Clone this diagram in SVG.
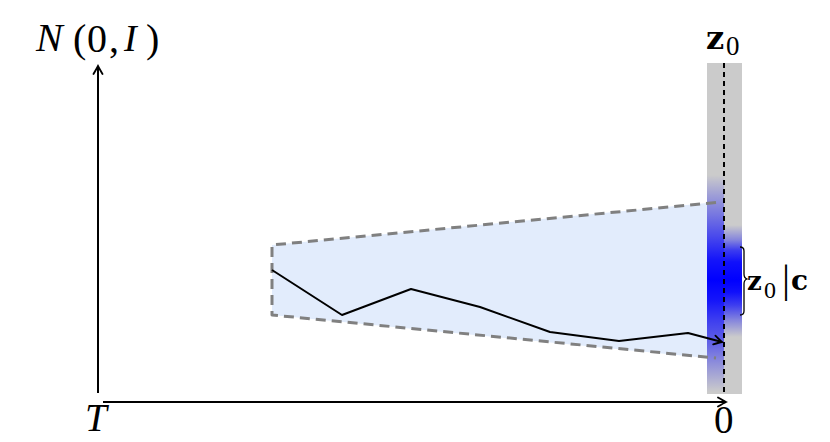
<svg xmlns="http://www.w3.org/2000/svg" width="830" height="442" viewBox="0 0 830 442">
<defs>
<style>
.lbl{font-family:"Liberation Serif","DejaVu Serif",serif;fill:#000}
.bf{font-family:"DejaVu Serif","Liberation Serif",serif;font-weight:bold}
.it{font-style:italic}
.axis{stroke:#000;stroke-width:2;fill:none}
.dash{stroke:#808080;stroke-width:3;stroke-dasharray:10 6;fill:none;stroke-linejoin:round}
</style>
<marker id="arr" viewBox="-10 -6 12 12" refX="0" refY="0" markerWidth="12" markerHeight="12" markerUnits="userSpaceOnUse" orient="auto">
<path d="M-8,-4.5 Q-2,-1 0,0 Q-2,1 -8,4.5" fill="none" stroke="#000" stroke-width="1.8" stroke-linecap="round"/>
</marker>
<linearGradient id="gL" gradientUnits="userSpaceOnUse" x1="0" y1="175" x2="0" y2="392">
<stop offset="0" stop-color="#0000ff" stop-opacity="0"/>
<stop offset="0.092" stop-color="#0000ff" stop-opacity="0.22"/>
<stop offset="0.184" stop-color="#0000ff" stop-opacity="0.42"/>
<stop offset="0.3" stop-color="#0000ff" stop-opacity="0.68"/>
<stop offset="0.392" stop-color="#0000ff" stop-opacity="0.9"/>
<stop offset="0.484" stop-color="#0000ff" stop-opacity="1"/>
<stop offset="0.576" stop-color="#0000ff" stop-opacity="0.9"/>
<stop offset="0.668" stop-color="#0000ff" stop-opacity="0.7"/>
<stop offset="0.783" stop-color="#0000ff" stop-opacity="0.5"/>
<stop offset="0.876" stop-color="#0000ff" stop-opacity="0.28"/>
<stop offset="1" stop-color="#0000ff" stop-opacity="0"/>
</linearGradient>
<linearGradient id="gR" gradientUnits="userSpaceOnUse" x1="0" y1="225" x2="0" y2="337">
<stop offset="0" stop-color="#0000ff" stop-opacity="0"/>
<stop offset="0.134" stop-color="#0000ff" stop-opacity="0.35"/>
<stop offset="0.223" stop-color="#0000ff" stop-opacity="0.7"/>
<stop offset="0.33" stop-color="#0000ff" stop-opacity="0.92"/>
<stop offset="0.491" stop-color="#0000ff" stop-opacity="1"/>
<stop offset="0.6" stop-color="#0000ff" stop-opacity="0.92"/>
<stop offset="0.714" stop-color="#0000ff" stop-opacity="0.7"/>
<stop offset="0.848" stop-color="#0000ff" stop-opacity="0.35"/>
<stop offset="1" stop-color="#0000ff" stop-opacity="0"/>
</linearGradient>
</defs>
<rect width="830" height="442" fill="#ffffff"/>
<g id="region">
<polygon points="272,245 707,203 707,358 272,315" fill="#e2ecfc"/>
</g>
<g id="band">
<rect x="707" y="63" width="35" height="331" fill="#cbcbcb"/>
<rect x="707" y="175" width="17" height="217" fill="url(#gL)"/>
<rect x="724" y="225" width="18" height="112" fill="url(#gR)"/>
</g>
<g id="connectors">
<path class="dash" d="M716,202.5 L272,245 L272,315 L716,358"/>
<line x1="724" y1="63" x2="724" y2="394" stroke="#000" stroke-width="2" stroke-dasharray="5 4"/>
<polyline points="272,270 342,315 411,289 480,307 550,332 619,341 688,333 722,342" fill="none" stroke="#000" stroke-width="2" stroke-linejoin="round" marker-end="url(#arr)"/>
<line class="axis" x1="98" y1="393" x2="98" y2="66" marker-end="url(#arr)"/>
<line class="axis" x1="103" y1="402" x2="726" y2="402" marker-end="url(#arr)"/>
<path d="M740,247 Q744,247 744,251 L744,274 Q744,278 747,279 Q744,280 744,284 L744,311 Q744,315 740,315" fill="none" stroke="#000" stroke-width="1.3"/>
</g>
<g id="label-N">
<text class="lbl it" x="36" y="51" style="font-size:40px">N</text>
<text class="lbl" x="73" y="52" style="font-size:40px">(</text>
<text class="lbl" x="87" y="52" style="font-size:40px">0</text>
<text class="lbl" x="109" y="52" style="font-size:40px">,</text>
<text class="lbl it" x="124" y="51" style="font-size:38px">I</text>
<text class="lbl" x="146" y="52" style="font-size:40px">)</text>
</g>
<g id="label-z0">
<text class="lbl bf" x="706" y="49" style="font-size:32px">z</text>
<text class="lbl" x="726" y="55" style="font-size:27px">0</text>
</g>
<g id="label-z0c">
<text class="lbl bf" x="747" y="290" style="font-size:26px">z</text>
<text class="lbl" x="764" y="298" style="font-size:24px">0</text>
<text class="lbl" x="782" y="292" style="font-size:40px">|</text>
<text class="lbl bf" x="791" y="290" style="font-size:28px">c</text>
</g>
<g id="label-T">
<text class="lbl it" x="85" y="431" style="font-size:39px">T</text>
</g>
<g id="label-0">
<text class="lbl" x="714" y="433" style="font-size:39px">0</text>
</g>
</svg>
